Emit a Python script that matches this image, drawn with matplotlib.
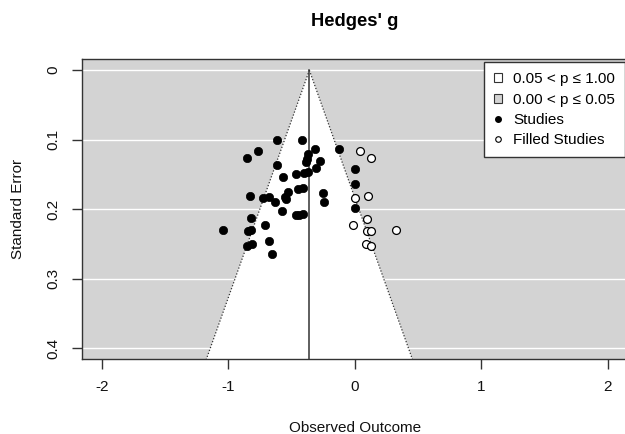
import matplotlib
matplotlib.use("Agg")
import matplotlib.pyplot as plt
import matplotlib.patches as mpatches
from matplotlib.lines import Line2D
import numpy as np

plt.rcParams['font.family'] = ['Liberation Sans', 'DejaVu Sans']

# observed studies (Hedges' g, standard error)
study_g = [-0.618, -0.415, -0.768, -0.850, -0.312, -0.368, -0.123, -0.278, -0.381, -0.386,
           -0.613, -0.307, -0.001, -0.400, -0.368, -0.468, -0.570, -0.001, -0.447, -0.407,
           -0.526, -0.254, -0.832, -0.729, -0.681, -0.552, -0.544, -0.629, -0.241, -0.001,
           -0.578, -0.468, -0.439, -0.410, -0.821, -0.710, -1.045, -0.843, -0.824, -0.679,
           -0.853, -0.813, -0.657]
study_se = [0.101, 0.100, 0.116, 0.127, 0.114, 0.120, 0.113, 0.130, 0.128, 0.132,
            0.137, 0.141, 0.142, 0.148, 0.147, 0.150, 0.154, 0.163, 0.171, 0.170,
            0.175, 0.176, 0.181, 0.184, 0.182, 0.182, 0.185, 0.190, 0.190, 0.198,
            0.202, 0.209, 0.208, 0.207, 0.213, 0.223, 0.230, 0.232, 0.230, 0.246,
            0.253, 0.250, 0.264]

# filled studies from trim-and-fill
filled_g = [0.044, 0.126, 0.004, 0.107, 0.099, -0.012, 0.094, 0.126, 0.324, 0.086, 0.128]
filled_se = [0.116, 0.127, 0.184, 0.181, 0.214, 0.223, 0.231, 0.232, 0.230, 0.250, 0.253]

estimate = -0.359
x_ticks = [-2, -1, 0, 1, 2]
y_ticks = [0, 0.1, 0.2, 0.3, 0.4]
y_ticklabels = ['0', '0.1', '0.2', '0.3', '0.4']

gray = '#d3d3d3'
dark = '#333333'

fig = plt.figure(figsize=(6.25, 4.34), dpi=100)
ax = fig.add_axes([0.1307, 0.172, 1.0045 - 0.1307, 0.8638 - 0.172])
ax.set_xlim(-2.16, 2.16)
ax.set_ylim(0.416, -0.016)
ax.set_facecolor(gray)

# gridlines
for y in y_ticks:
    ax.axhline(y, color='white', lw=1.0, zorder=1)

# white contour region (p > 0.05)
ybot = 0.416
tri = mpatches.Polygon([(estimate, 0), (estimate - 1.96 * ybot, ybot), (estimate + 1.96 * ybot, ybot)],
                       closed=True, facecolor='white', edgecolor='none', zorder=2)
ax.add_patch(tri)
se_line = np.array([0, ybot])
ax.plot(estimate - 1.96 * se_line, se_line, color=dark, ls=(0, (1, 1.5)), lw=0.9, zorder=3)
ax.plot(estimate + 1.96 * se_line, se_line, color=dark, ls=(0, (1, 1.5)), lw=0.9, zorder=3)
ax.plot([estimate, estimate], [0, ybot], color=dark, lw=1.1, zorder=3)

ax.scatter(study_g, study_se, s=36, color='black', edgecolors='black', linewidths=0.5, zorder=5)
ax.scatter(filled_g, filled_se, s=32, facecolors='white', edgecolors='black', linewidths=0.9, zorder=5)

for sp in ax.spines.values():
    sp.set_color(dark)
    sp.set_linewidth(1.0)

ax.set_xticks(x_ticks)
ax.set_xticklabels([str(t) for t in x_ticks])
ax.set_yticks(y_ticks)
ax.set_yticklabels(y_ticklabels, rotation=90, va='center')
ax.tick_params(direction='out', length=7, width=1, color=dark, labelsize=11, labelcolor='#111111')
ax.tick_params(axis='x', pad=8)
ax.tick_params(axis='y', pad=8)

ax.set_xlabel('Observed Outcome', fontsize=11, color='#111111', va='center', ha='center')
ax.set_ylabel('Standard Error', fontsize=11, color='#111111', va='center', ha='center')
ax.xaxis.set_label_coords((355 - 81.7) / (627.8 - 81.7), -(428 - 359.3) / 300.2)
ax.yaxis.set_label_coords(-(81.7 - 18) / (627.8 - 81.7), 0.5)

fig.text(355 / 625, 1 - 22 / 434, "Hedges' g", ha='center', va='center',
         fontsize=13.2, fontweight='bold')

handles = [
    mpatches.Patch(facecolor='white', edgecolor=dark, lw=0.8, label='0.05 < p \u2264 1.00'),
    mpatches.Patch(facecolor=gray, edgecolor=dark, lw=0.8, label='0.00 < p \u2264 0.05'),
    Line2D([], [], ls='none', marker='o', markersize=4, color='black', label='Studies'),
    Line2D([], [], ls='none', marker='o', markersize=4, markerfacecolor='white',
           markeredgecolor='black', markeredgewidth=0.8, label='Filled Studies'),
]
leg = fig.legend(handles=handles, loc='upper left', bbox_to_anchor=(484 / 625, 1 - 62.3 / 434),
                 fontsize=11, frameon=True, fancybox=False, framealpha=1, edgecolor=dark,
                 handlelength=0.55, handleheight=0.55, handletextpad=0.7, labelspacing=0.42,
                 borderpad=0.65, borderaxespad=0)
leg.get_frame().set_linewidth(1.0)
leg.set_zorder(10)

fig.savefig('out.png', dpi=100)
